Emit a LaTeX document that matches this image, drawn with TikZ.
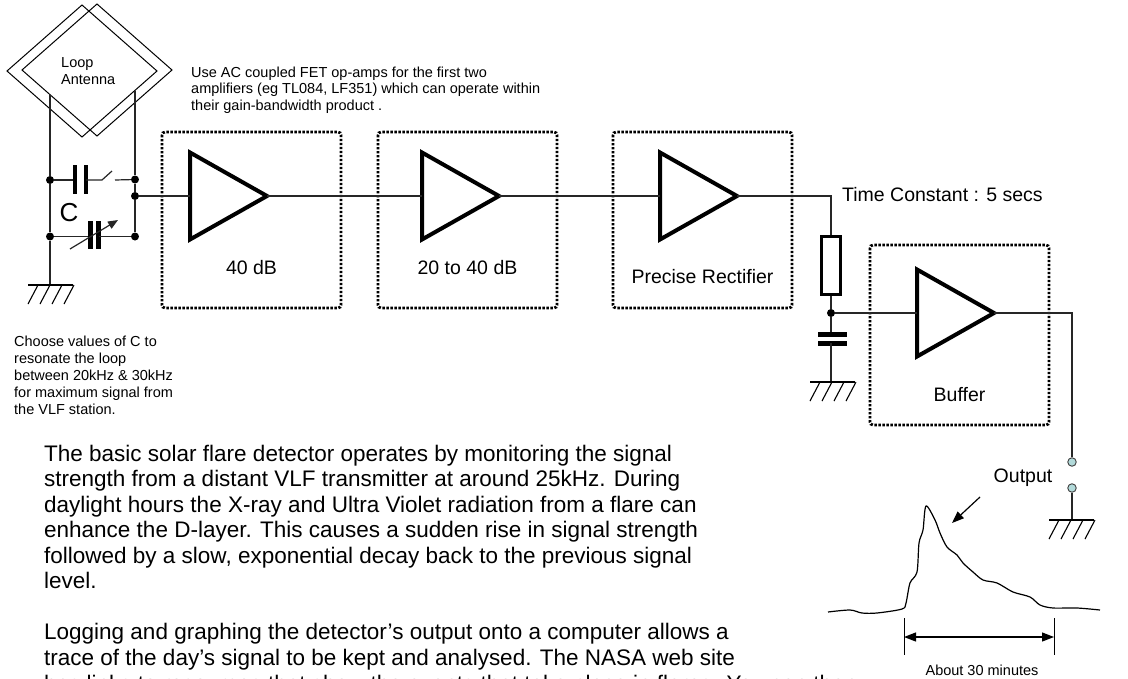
\documentclass[tikz,border=0pt]{standalone}
\usepackage{fontspec}
\setmainfont{Liberation Sans}
\usetikzlibrary{arrows.meta}
\begin{document}
\begin{tikzpicture}[x=1pt,y=-1pt,
  wire/.style={line width=1.2pt, draw=black!85},
  thinline/.style={line width=1pt},
  ampline/.style={line width=4pt, line join=miter},
  dotbox/.style={line width=2.8pt, dash pattern=on 2.4pt off 1.6pt, rounded corners=3pt},
  junction/.style={circle, fill=black, inner sep=0pt, minimum size=8pt},
  term/.style={circle, draw=black!75, fill={rgb,255:red,178;green,218;blue,218}, line width=0.9pt, inner sep=0pt, minimum size=8.5pt},
  lbl/.style={font=\fontsize{19.5}{22}\selectfont, inner sep=0pt},
  note/.style={font=\fontsize{14.5}{16.7}\selectfont, inner sep=0pt, anchor=base west},
  para/.style={font=\fontsize{22.5}{25.5}\selectfont, inner sep=0pt, anchor=base west},
  plate/.style={line width=4.5pt},
  tip/.style={-{Triangle[length=12pt,width=9pt]}},
  gnd/.pic={\draw[line width=1.1pt] (0,0) -- (45,0);
            \foreach \k in {0,1,2,3} \draw[line width=1.1pt] (10+12*\k,0) -- (12*\k,19);},
  amp/.pic={\draw[ampline] (0,-43.5) -- (77,0) -- (0,43.5) -- cycle;}
]
\fill[white] (0,0) rectangle (1128,678);
\useasboundingbox (0,0) rectangle (1128,678);
\clip (0,0) rectangle (1128,678);

% ---------- loop antenna ----------
\draw[thinline] (7,71) -- (82,5) -- (157,71) -- (82,137) -- cycle;
\draw[thinline] (22,70) -- (97,4) -- (172,70) -- (97,136) -- cycle;
\node[note] (loop) at (61,67) {Loop};
\node[note] (ant) at (61,84) {Antenna};

% ---------- tuning network ----------
\coordinate (antL) at (50,95);
\coordinate (antR) at (135,91);
\coordinate (gL) at (50,285);
\node[junction] (L1) at (50,180) {};
\node[junction] (L2) at (50,236.5) {};
\node[junction] (R1) at (135,179.5) {};
\node[junction] (R2) at (135,196) {};
\node[junction] (R3) at (135,236.5) {};
\draw[wire] (antL) -- (L1) -- (L2) -- (gL);
\draw[wire] (antR) -- (R1) -- (R2) -- (R3);
\pic at (28,285) {gnd};

% fixed capacitor + switch
\coordinate (c1a) at (75.2,180);
\coordinate (c1b) at (85.8,180);
\coordinate (swa) at (102,180);
\coordinate (swb) at (112,171);
\coordinate (swc) at (115,180);
\draw[wire] (L1) -- (c1a);
\draw[plate] (75.2,165) -- (75.2,194);
\draw[plate] (85.8,165) -- (85.8,194);
\draw[wire] (c1b) -- (swa) -- (swb);
\draw[wire] (swc) -- (R1);

% variable capacitor
\coordinate (vca) at (90,236.5);
\coordinate (vcb) at (98.5,236.5);
\draw[wire] (L2) -- (vca);
\draw[line width=5pt] (90,221) -- (90,249);
\draw[line width=5pt] (98.5,221) -- (98.5,249);
\draw[wire] (vcb) -- (R3);
\coordinate (va1) at (70,249);
\coordinate (va2) at (118,220);
\draw[wire, -{Triangle[length=10pt,width=8pt]}] (va1) -- (va2);
\node[font=\fontsize{26}{28}\selectfont, inner sep=0pt] (C) at (69,213) {C};

% ---------- notes ----------
\node[note] (n1) at (191,77) {Use AC coupled FET op-amps for the first two};
\node[note] (n2) at (191,93.7) {amplifiers (eg TL084, LF351) which can operate within};
\node[note] (n3) at (191,110.4) {their gain-bandwidth product .};

\node[note] (m1) at (14,346) {Choose values of C to};
\node[note] (m2) at (14,363) {resonate the loop};
\node[note] (m3) at (14,380) {between 20kHz \& 30kHz};
\node[note] (m4) at (14,397) {for maximum signal from};
\node[note] (m5) at (14,414) {the VLF station.};

% ---------- amplifier chain ----------
\draw[dotbox] (162,132) rectangle (341,308);
\draw[dotbox] (378,132) rectangle (557,308);
\draw[dotbox] (613,132) rectangle (792,308);
\draw[dotbox] (870,245) rectangle (1049,425);

\pic at (190,196) {amp};
\pic at (422,196) {amp};
\pic at (660,196) {amp};
\pic at (917,313) {amp};
\coordinate (a1in) at (190,196);  \coordinate (a1out) at (267,196);
\coordinate (a2in) at (422,196);  \coordinate (a2out) at (499,196);
\coordinate (a3in) at (660,196);  \coordinate (a3out) at (737,196);
\coordinate (b4in) at (917,313);  \coordinate (b4out) at (994,313);

\draw[wire] (R2) -- (a1in);
\draw[wire] (a1out) -- (a2in);
\draw[wire] (a2out) -- (a3in);

\node[lbl] (g1) at (251.5,268) {40 dB};
\node[lbl] (g2) at (467.5,268) {20 to 40 dB};
\node[lbl] (g3) at (702.5,277) {Precise Rectifier};
\node[lbl] (g4) at (959.5,395) {Buffer};

% ---------- RC time constant ----------
\coordinate (rcTop) at (831,196);
\node[draw, line width=2.8pt, minimum width=19pt, minimum height=58pt, inner sep=0pt] (res) at (831,265.5) {};
\draw[wire] (a3out) -- (rcTop) -- (res.north);
\node[junction] (J) at (831,313) {};
\draw[wire] (res.south) -- (J);
\draw[wire] (J) -- (b4in);
\coordinate (cp1) at (831,334);
\coordinate (cp2) at (831,343);
\coordinate (gR) at (831,382);
\draw[wire] (J) -- (cp1);
\draw[line width=5pt] (818,334) -- (847,334);
\draw[line width=5pt] (818,343) -- (847,343);
\draw[wire] (cp2) -- (gR);
\pic at (810,382) {gnd};
\node[lbl, anchor=west] (tc) at (842,195) {Time Constant : 5 secs};

% ---------- output ----------
\coordinate (oc) at (1072,313);
\node[term] (O1) at (1072,462) {};
\node[term] (O2) at (1072,488) {};
\coordinate (gO) at (1072,520);
\draw[wire] (b4out) -- (oc) -- (O1);
\draw[wire] (O2) -- (gO);
\pic at (1049,520) {gnd};
\node[lbl] (out) at (1023,478) {Output};
\coordinate (oa1) at (980,497);
\coordinate (oa2) at (952,523);
\draw[line width=1.2pt, tip] (oa1) -- (oa2);

% waveform
\draw[line width=1.2pt, line join=round] plot[smooth, tension=0.5] coordinates {
 (828,612) (850,610) (862,613) (877,613) (902,609) (906,603) (910,583) (917,572)
 (919,543) (923,530) (926,506) (935,520) (940,533) (947,547) (957,555) (963,563)
 (973,572) (983,580) (997,583) (1013,592) (1030,597) (1040,605) (1053,608) (1077,608) (1100,610)};

% duration marker
\coordinate (d1) at (904,637);
\coordinate (d2) at (1054,637);
\draw[thinline] (904,618) -- (904,655);
\draw[thinline] (1054,618) -- (1054,655);
\draw[line width=1.2pt, {Triangle[length=12pt,width=9pt]}-{Triangle[length=12pt,width=9pt]}] (d1) -- (d2);
\node[note, anchor=base] (dur) at (982,675) {About 30 minutes};

% ---------- body text ----------
\node[para] (p1) at (44,461) {The basic solar flare detector operates by monitoring the signal};
\node[para] (p2) at (44,486.5) {strength from a distant VLF transmitter at around 25kHz. During};
\node[para] (p3) at (44,512) {daylight hours the X-ray and Ultra Violet radiation from a flare can};
\node[para] (p4) at (44,537.5) {enhance the D-layer. This causes a sudden rise in signal strength};
\node[para] (p5) at (44,563) {followed by a slow, exponential decay back to the previous signal};
\node[para] (p6) at (44,588.5) {level.};
\node[para] (q1) at (44,639.5) {Logging and graphing the detector’s output onto a computer allows a};
\node[para] (q2) at (44,665) {trace of the day’s signal to be kept and analysed. The NASA web site};
\node[para] (q3) at (44,691.5) {has links to resources that show the events that take place in flares. You can then};
\end{tikzpicture}
\end{document}
